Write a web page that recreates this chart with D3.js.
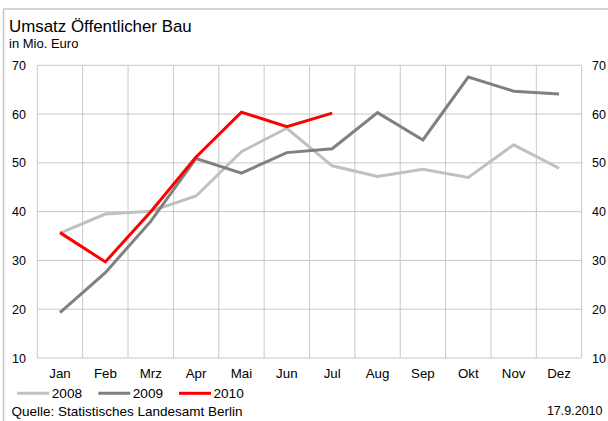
<!DOCTYPE html>
<html>
<head>
<meta charset="utf-8">
<script src="https://cdn.jsdelivr.net/npm/d3@7"></script>
<style>
  html, body { margin: 0; padding: 0; background: #fff; }
  svg { display: block; font-family: "Liberation Sans", Arial, sans-serif; }
</style>
</head>
<body>
<svg id="chart" width="608" height="421"></svg>
<script>
// Monthly turnover, public construction (Mio. Euro)
const months = ["Jan","Feb","Mrz","Apr","Mai","Jun","Jul","Aug","Sep","Okt","Nov","Dez"];
const values2008 = [35.6, 39.5, 40.1, 43.2, 52.3, 57.1, 49.4, 47.2, 48.7, 47.0, 53.7, 48.9];
const values2009 = [19.3, 27.5, 38.0, 50.9, 47.9, 52.1, 52.9, 60.3, 54.7, 67.6, 64.7, 64.1];
const values2010 = [35.7, 29.7, 40.0, 51.2, 60.4, 57.4, 60.2];
const yTicks = [10, 20, 30, 40, 50, 60, 70];
const seriesNames = ["2008", "2009", "2010"];
const seriesColors = ["#c0c0c0", "#808080", "#ff0000"];

const series = [values2008, values2009, values2010].map((vals, i) => ({
  name: seriesNames[i],
  color: seriesColors[i],
  points: vals.map((v, j) => ({ month: months[j], value: v }))
}));

const svg = d3.select("#chart");
const plot = { left: 37.3, right: 581.7, top: 65.3, bottom: 358 };

const x = d3.scaleBand().domain(months).range([plot.left, plot.right]).padding(0);
const y = d3.scaleLinear().domain([10, 70]).range([plot.bottom, plot.top]);

// outer frame (top and left edge)
svg.append("line").attr("x1", 3.5).attr("x2", 608).attr("y1", 9).attr("y2", 9)
  .attr("stroke", "#c4c4c4").attr("stroke-width", 1.5);
svg.append("line").attr("x1", 3.5).attr("x2", 3.5).attr("y1", 9).attr("y2", 421)
  .attr("stroke", "#c4c4c4").attr("stroke-width", 1.5);

// titles
svg.append("text").attr("x", 9).attr("y", 32.3).attr("font-size", 16.9)
  .attr("fill", "#000").text("Umsatz Öffentlicher Bau");
svg.append("text").attr("x", 9).attr("y", 47.5).attr("font-size", 13)
  .attr("fill", "#000").text("in Mio. Euro");

// grid
const grid = svg.append("g").attr("stroke", "#c8c8c8").attr("stroke-width", 1);
yTicks.forEach(t => {
  grid.append("line").attr("x1", plot.left).attr("x2", plot.right)
    .attr("y1", y(t)).attr("y2", y(t));
});
months.forEach(m => {
  grid.append("line").attr("x1", x(m)).attr("x2", x(m))
    .attr("y1", plot.top).attr("y2", plot.bottom);
});
grid.append("line").attr("x1", plot.right).attr("x2", plot.right)
  .attr("y1", plot.top).attr("y2", plot.bottom);

// y axes on both sides
const leftAxis = d3.axisLeft(y).tickValues(yTicks).tickSize(0).tickPadding(0);
const gl = svg.append("g").attr("transform", "translate(26,0)").call(leftAxis);
const rightAxis = d3.axisRight(y).tickValues(yTicks).tickSize(0).tickPadding(0);
const gr = svg.append("g").attr("transform", "translate(592,0)").call(rightAxis);
[gl, gr].forEach(g => {
  g.select(".domain").remove();
  g.selectAll("text").attr("font-size", 12.5).attr("fill", "#000")
    .attr("font-family", "Liberation Sans, Arial, sans-serif");
});

// x axis
const bottomAxis = d3.axisBottom(x).tickSize(0).tickPadding(0);
const gb = svg.append("g").attr("transform", "translate(0,369)").call(bottomAxis);
gb.select(".domain").remove();
gb.selectAll("text").attr("font-size", 13.3).attr("fill", "#000").attr("dy", "0.66em")
  .attr("font-family", "Liberation Sans, Arial, sans-serif");

// lines
const line = d3.line()
  .x(d => x(d.month) + x.bandwidth() / 2)
  .y(d => y(d.value));

svg.append("g").selectAll("path").data(series).join("path")
  .attr("d", d => line(d.points))
  .attr("fill", "none")
  .attr("stroke", d => d.color)
  .attr("stroke-width", 3)
  .attr("stroke-linejoin", "miter")
  .attr("stroke-linecap", "butt");

// legend
const legendX = [17.3, 98.3, 179];
const legend = svg.append("g");
series.forEach((s, i) => {
  legend.append("line").attr("x1", legendX[i]).attr("x2", legendX[i] + 32)
    .attr("y1", 393.3).attr("y2", 393.3)
    .attr("stroke", s.color).attr("stroke-width", 3);
  legend.append("text").attr("x", legendX[i] + 34.5).attr("y", 393.3).attr("dy", "0.35em")
    .attr("font-size", 13.6).attr("fill", "#000").text(s.name);
});

// footer
svg.append("text").attr("x", 11.5).attr("y", 411).attr("dy", "0.35em")
  .attr("font-size", 13.5).attr("fill", "#000").text("Quelle: Statistisches Landesamt Berlin");
svg.append("text").attr("x", 602.5).attr("y", 411).attr("dy", "0.35em").attr("text-anchor", "end")
  .attr("font-size", 12.5).attr("fill", "#000").text("17.9.2010");
</script>
</body>
</html>
